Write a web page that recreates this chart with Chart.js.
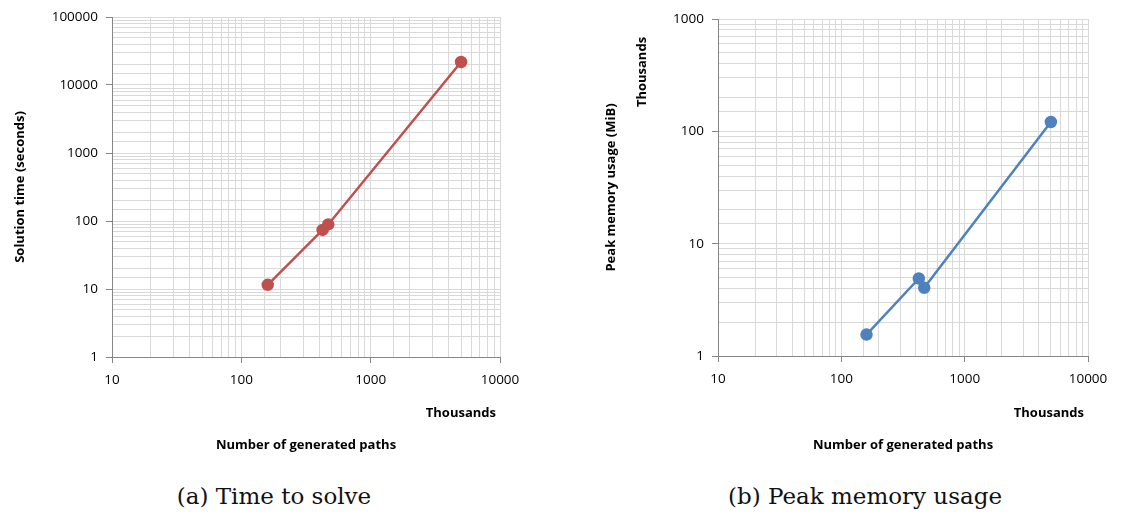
<!DOCTYPE html>
<html lang="en">

<head>
    <meta charset="UTF-8">
    <title>Paths vs time and memory</title>
    <style>
        body { margin: 0; background: #fff; width: 1131px; height: 514px; position: relative; overflow: hidden; }
        canvas { position: absolute; top: 0; }
        .caption { position: absolute; top: 483px; width: 400px; text-align: center; line-height: 26px;
                   font-family: "DejaVu Serif", serif; font-size: 23px; color: #111; }
    </style>
</head>

<body>
    <canvas id="timeChart" width="565" height="460" style="left:0"></canvas>
    <canvas id="memChart" width="566" height="460" style="left:565px"></canvas>
    <div class="caption" style="left:74px">(a) Time to solve</div>
    <div class="caption" style="left:665px">(b) Peak memory usage</div>

    <script src="https://cdn.jsdelivr.net/npm/chart.js"></script>

    <script>
        // number of generated paths (thousands)
        const paths = [160, 425, 470, 5000];
        // solution time in seconds
        const solveTime = [11.5, 74, 89, 21800];
        // peak memory usage, MiB (thousands)
        const peakMemory = [1.55, 4.9, 4.05, 121];

        const xTicks = [10, 100, 1000, 10000];
        const timeTicks = [1, 10, 100, 1000, 10000, 100000];
        const memTicks = [1, 10, 100, 1000];

        const tickFont = { family: 'Open Sans', size: 13.5 };
        const titleFont = { family: 'Open Sans', size: 13, weight: 'bold' };

        function isPow10(v) {
            const l = Math.log10(v);
            return Math.abs(l - Math.round(l)) < 1e-9;
        }

        // extra "Thousands" labels like the spreadsheet draws
        const unitLabels = {
            id: 'unitLabels',
            afterDraw(chart, args, opts) {
                const ctx = chart.ctx;
                const area = chart.chartArea;
                ctx.save();
                ctx.font = 'bold 13px "Open Sans"';
                ctx.fillStyle = '#000';
                ctx.textAlign = 'right';
                ctx.textBaseline = 'middle';
                ctx.fillText('Thousands', area.right - 4, 413);
                if (opts.yUnitX) {
                    ctx.translate(opts.yUnitX, 72);
                    ctx.rotate(-Math.PI / 2);
                    ctx.textAlign = 'center';
                    ctx.fillText('Thousands', 0, 0);
                }
                ctx.restore();
            }
        };

        function makeChart(id, values, color, yMin, yMax, layout) {
            const points = paths.map((p, i) => ({ x: p, y: values[i] }));
            const gridOpts = {
                color: '#d9d9d9',
                lineWidth: 1,
                tickLength: 6,
                tickColor: c => (c.tick && isPow10(c.tick.value)) ? '#868686' : 'rgba(0,0,0,0)'
            };
            return new Chart(document.getElementById(id), {
                type: 'scatter',
                data: {
                    datasets: [{
                        data: points,
                        showLine: true,
                        borderColor: color,
                        backgroundColor: color,
                        borderWidth: 2.5,
                        pointRadius: 5,
                        pointHoverRadius: 5
                    }]
                },
                plugins: [unitLabels],
                options: {
                    responsive: false,
                    animation: false,
                    devicePixelRatio: 1,
                    layout: { padding: { left: 0, top: layout.top, right: layout.right, bottom: 0 } },
                    plugins: {
                        legend: { display: false },
                        tooltip: { enabled: false },
                        unitLabels: { yUnitX: layout.yUnitX }
                    },
                    scales: {
                        x: {
                            type: 'logarithmic',
                            min: xTicks[0],
                            max: xTicks[xTicks.length - 1],
                            afterFit: s => { s.height = layout.xHeight; },
                            grid: gridOpts,
                            border: { color: '#868686', width: 1 },
                            ticks: {
                                autoSkip: false,
                                maxRotation: 0,
                                padding: 9,
                                color: '#000',
                                font: tickFont,
                                callback: v => xTicks.includes(v) ? String(v) : ''
                            },
                            title: {
                                display: true,
                                text: 'Number of generated paths',
                                color: '#000',
                                font: titleFont,
                                padding: { top: 0, bottom: 7 }
                            }
                        },
                        y: {
                            type: 'logarithmic',
                            min: yMin,
                            max: yMax,
                            afterFit: s => { s.width = layout.yWidth; },
                            grid: gridOpts,
                            border: { color: '#868686', width: 1 },
                            ticks: {
                                autoSkip: false,
                                padding: 8,
                                color: '#000',
                                font: tickFont,
                                callback: v => isPow10(v) ? String(v) : ''
                            },
                            title: {
                                display: true,
                                text: layout.yTitle,
                                color: '#000',
                                font: titleFont,
                                padding: { top: layout.yTitlePad, bottom: 0 }
                            }
                        }
                    }
                }
            });
        }

        makeChart('timeChart', solveTime, '#C0504D', timeTicks[0], timeTicks[timeTicks.length - 1], {
            top: 17, right: 65, xHeight: 103, yWidth: 112,
            yTitle: 'Solution time (seconds)', yTitlePad: 12
        });

        makeChart('memChart', peakMemory, '#4F81BD', memTicks[0], memTicks[memTicks.length - 1], {
            top: 19, right: 43, xHeight: 104, yWidth: 153,
            yTitle: 'Peak memory usage (MiB)', yTitlePad: 38, yUnitX: 77
        });
    </script>
</body>

</html>
